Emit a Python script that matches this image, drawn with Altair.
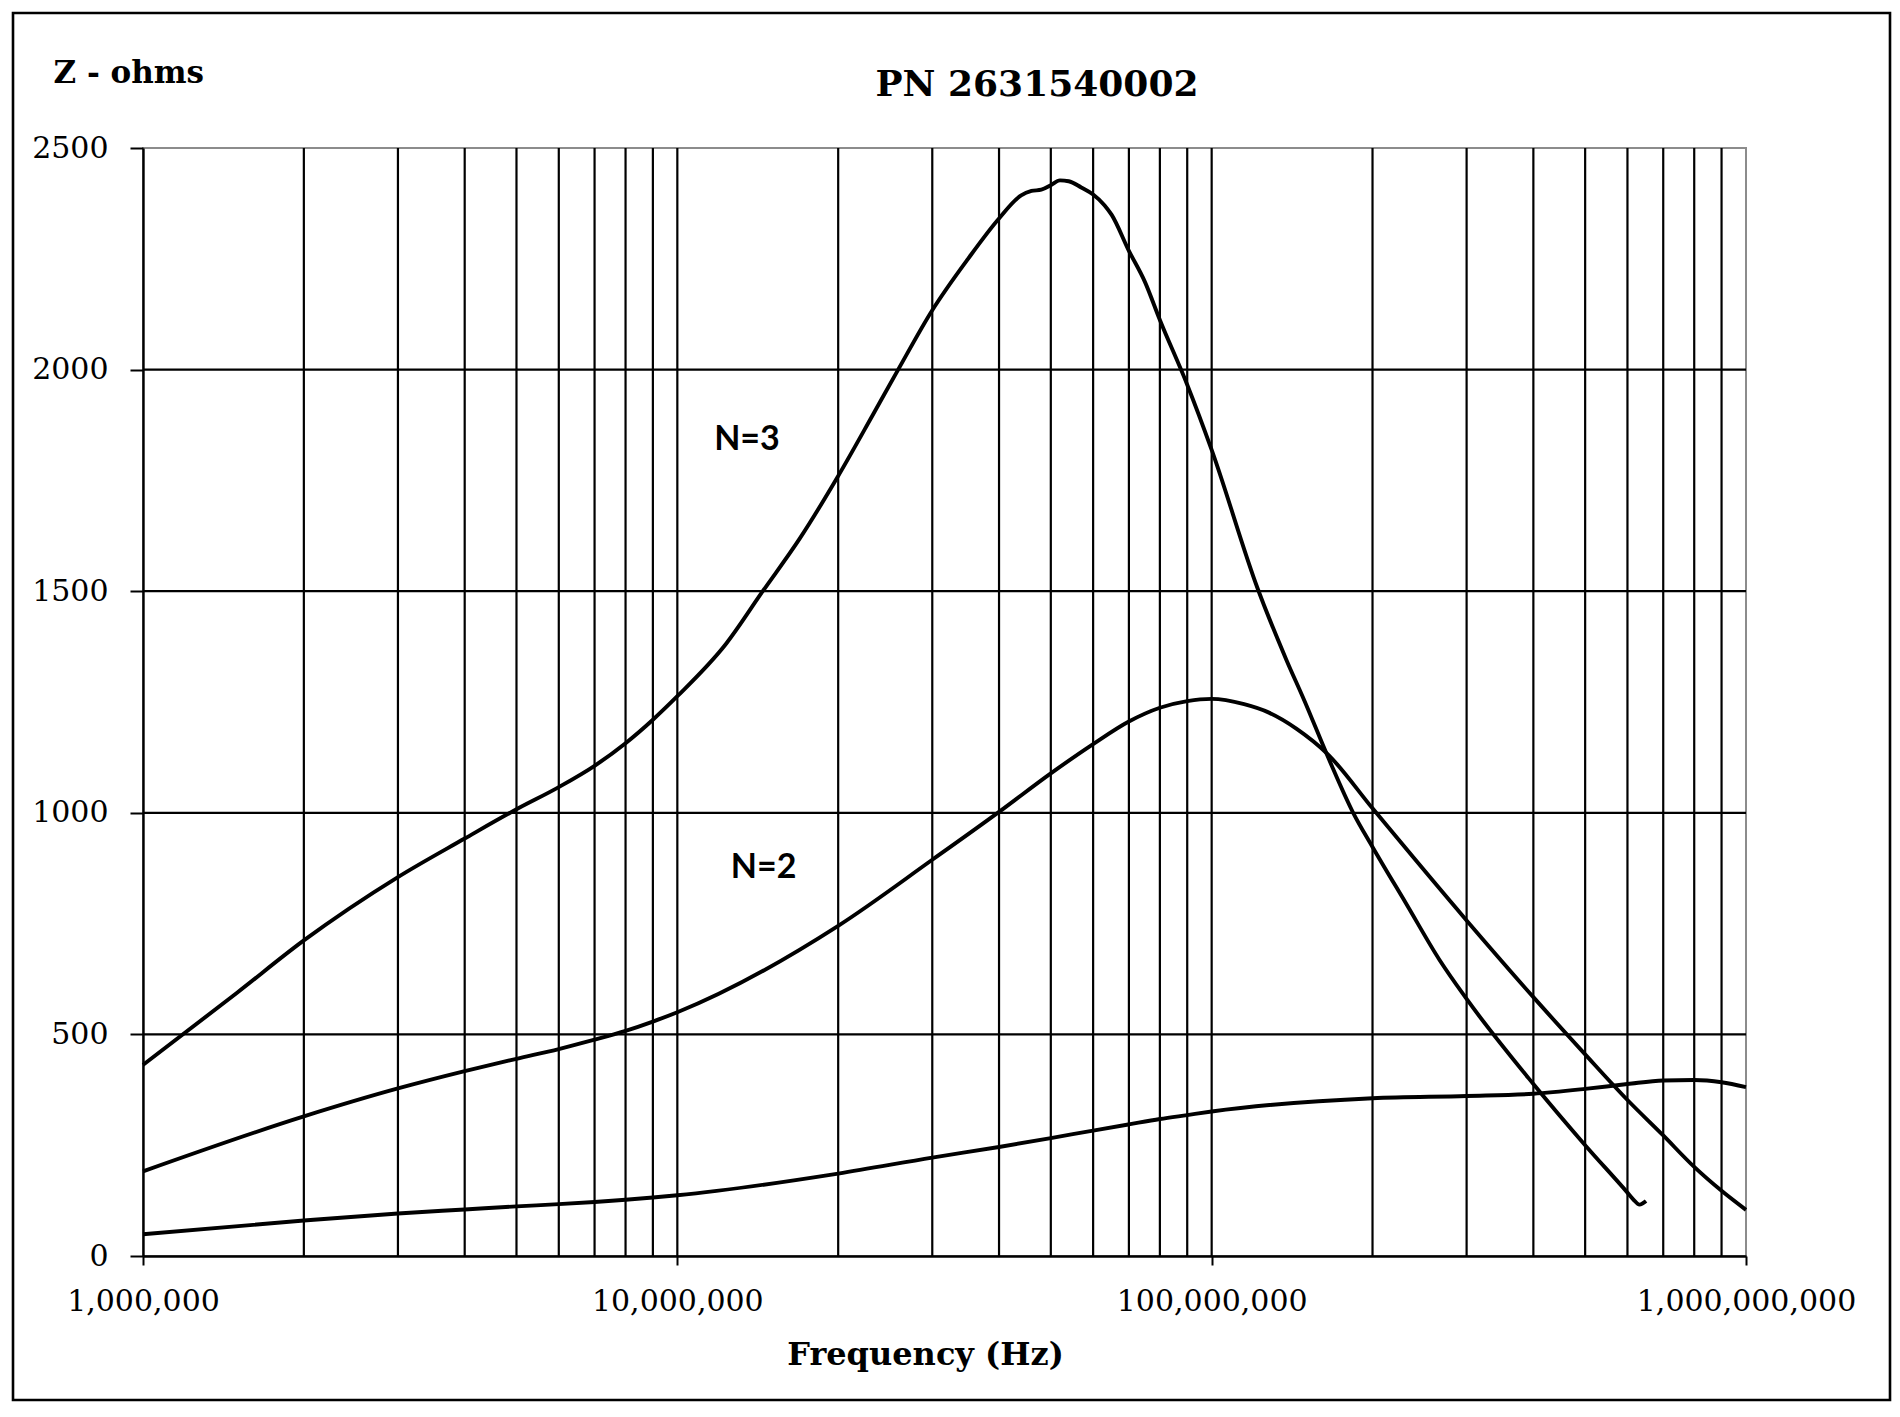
import altair as alt
import pandas as pd

# ---- data (frequency in MHz, impedance in ohms) ----
n3_freq = [1, 1.5, 2, 3, 4, 5, 6, 7, 8, 9, 10, 12.35, 14.45, 16.93, 20, 23.2, 25.9, 30, 35, 40, 44, 46, 48, 50, 52, 54, 57,
           60, 63, 65, 70, 75, 80, 90, 100, 122, 138, 149, 166, 184, 200, 232, 267, 300, 400, 500, 600, 615, 632, 650]
n3_z = [431, 594, 712, 855, 942, 1008, 1058, 1106, 1157, 1210, 1263, 1382, 1500, 1618, 1760, 1897, 2000, 2134, 2250, 2341, 2393, 2403, 2406, 2416, 2427, 2425, 2411,
        2395, 2371, 2349, 2268, 2198, 2112, 1966, 1819, 1505, 1345, 1254, 1119, 1000, 923, 792, 668, 580, 388, 250, 143, 128, 116, 124]

n2_freq = [1, 2, 3, 4, 5, 6, 7, 8, 9, 10, 20, 30, 40, 50, 60, 70, 80, 90, 100, 115, 128, 144, 165,
           200, 300, 400, 500, 600, 700, 800, 900, 1000]
n2_z = [191, 315, 378, 417, 445, 467, 488, 508, 529, 550, 745, 894, 1002, 1089, 1155, 1206, 1237, 1252, 1257, 1245, 1226, 1190, 1132,
        1010, 757, 584, 455, 352, 272, 201, 147, 104]

n1_freq = [1, 2, 3, 4, 5, 6, 7, 8, 9, 10, 20, 30, 40, 50, 60, 70, 80, 90, 100, 200, 300, 400, 500,
           600, 700, 800, 900, 1000]
n1_z = [49, 80, 96, 105, 112, 117, 122, 127, 132, 137, 186, 222, 246, 266, 283, 297, 309, 318, 326, 356, 361, 366, 377,
        388, 396, 397, 392, 381]

label_text = ["N=3", "N=2"]
label_freq = [13.5, 14.5]
label_z = [1842, 875]

title_text = "PN 2631540002"
y_ticks = [0, 500, 1000, 1500, 2000, 2500]
x_ticks = [1e6, 1e7, 1e8, 1e9]
h_grid = [500, 1000, 1500, 2000]
v_grid = [k * 10 ** e for e in (6, 7, 8) for k in range(1, 10) if not (k == 1 and e == 6)]

rows = []
for name, fs, zs in (("N=3", n3_freq, n3_z), ("N=2", n2_freq, n2_z), ("N=1", n1_freq, n1_z)):
    for f, z in zip(fs, zs):
        rows.append({"series": name, "f": f * 1e6, "z": z})
curves = pd.DataFrame(rows)
labels = pd.DataFrame({"t": label_text, "f": [v * 1e6 for v in label_freq], "z": label_z})

SERIF = "DejaVu Serif"
xscale = alt.Scale(type="log", domain=[1e6, 1e9], nice=False)
yscale = alt.Scale(domain=[0, 2500], nice=False, zero=True)

xaxis = alt.Axis(
    values=x_ticks, labelExpr="format(datum.value, ',')", grid=False,
    labelFont=SERIF, labelFontSize=30, labelColor="black", labelPadding=21,
    labelOverlap=False, labelFlush=False, labelLimit=0,
    tickColor="black", tickSize=9, tickWidth=2,
    domainColor="black", domainWidth=2.6,
    title="Frequency (Hz)", titleFont=SERIF, titleFontSize=32, titleFontWeight="bold",
    titleColor="black", titleX=782, titleY=108, titleBaseline="alphabetic", titleAlign="center",
)
yaxis = alt.Axis(
    values=y_ticks, grid=False, format="d",
    labelFont=SERIF, labelFontSize=30, labelColor="black", labelPadding=22,
    tickColor="black", tickSize=13, tickWidth=2,
    domainColor="black", domainWidth=2.4,
    title="Z - ohms", titleFont=SERIF, titleFontSize=31, titleFontWeight="bold",
    titleColor="black", titleAngle=0, titleX=-90, titleY=-66,
    titleAlign="left", titleBaseline="alphabetic",
)

vgrid = alt.Chart(pd.DataFrame({"f": v_grid})).mark_rule(color="black", strokeWidth=2.2).encode(
    x=alt.X("f:Q", scale=xscale, axis=xaxis)
)
hgrid = alt.Chart(pd.DataFrame({"z": h_grid})).mark_rule(color="black", strokeWidth=2.2).encode(
    y=alt.Y("z:Q", scale=yscale, axis=yaxis)
)
lines = alt.Chart(curves).mark_line(color="black", strokeWidth=3.9, interpolate="monotone").encode(
    x=alt.X("f:Q", scale=xscale),
    y=alt.Y("z:Q", scale=yscale),
    detail="series:N",
)
texts = alt.Chart(labels).mark_text(
    font="Lato", fontWeight="bold", fontSize=34, color="black", align="center", baseline="middle"
).encode(
    x=alt.X("f:Q", scale=xscale),
    y=alt.Y("z:Q", scale=yscale),
    text="t:N",
)
title = alt.Chart(pd.DataFrame({"t": [title_text]})).mark_text(
    font=SERIF, fontWeight="bold", fontSize=36, color="black", align="center", baseline="alphabetic"
).encode(
    x=alt.value(894), y=alt.value(-52), text="t:N"
)
frame = alt.Chart(pd.DataFrame({"a": [0]})).mark_rect(
    fill=None, filled=False, stroke="black", strokeWidth=2.6
).encode(
    x=alt.value(-130), x2=alt.value(1747), y=alt.value(-135), y2=alt.value(1252)
)

chart = alt.layer(vgrid, hgrid, lines, texts, title, frame).properties(
    width=1603,
    height=1108,
    autosize=alt.AutoSizeParams(type="none"),
    padding={"left": 135, "top": 140, "right": 146, "bottom": 147},
    background="white",
).configure_view(stroke="#8c8c8c", strokeWidth=2)

chart.save("out.html", embed_options={"renderer": "svg", "actions": False})
